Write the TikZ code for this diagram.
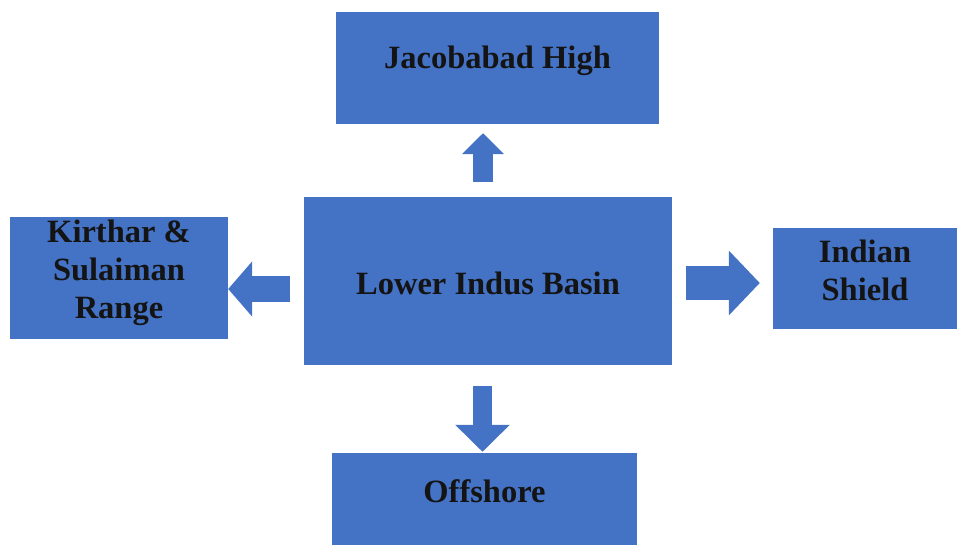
\documentclass[tikz,border=0pt]{standalone}
\usepackage{fontspec}
\setmainfont{Liberation Serif}
\usetikzlibrary{arrows.meta}
\definecolor{boxblue}{HTML}{4472C4}
\begin{document}
\begin{tikzpicture}[x=1pt,y=-1pt,
  box/.style={fill=boxblue, draw=none, inner sep=0pt},
  lbl/.style={font=\fontsize{32.5}{38}\selectfont\bfseries, text=black!92, align=center, inner sep=0pt},
  flow/.style={draw=boxblue, line cap=butt}]
\useasboundingbox (0,0) rectangle (957,545);

% blocks
\node[box, minimum width=323pt, minimum height=112pt] (jac) at (497.5,68) {};
\node[box, minimum width=368pt, minimum height=168pt] (lib) at (488,281) {};
\node[box, minimum width=218pt, minimum height=122pt] (ksr) at (119,278) {};
\node[box, minimum width=184pt, minimum height=101pt] (ind) at (865,278.5) {};
\node[box, minimum width=305pt, minimum height=92pt] (off) at (484.5,499) {};

% block texts
\node[lbl] (jact) at ([yshift=7pt]jac.center) {Jacobabad High};
\node[lbl] (libt) at ([yshift=-2pt]lib.center) {Lower Indus Basin};
\node[lbl] (ksrt) at ([yshift=5pt]ksr.center) {Kirthar \&\\Sulaiman\\Range};
\node[lbl] (indt) at ([yshift=8pt]ind.center) {Indian\\Shield};
\node[lbl] (offt) at ([yshift=8pt]off.center) {Offshore};

% block arrows
\draw[flow, line width=20pt, -{Triangle[width=41pt,length=21pt]}, shorten <=15pt, shorten >=9pt]
  ([xshift=-5pt]lib.north) -- ([xshift=-14.5pt]jac.south);
\draw[flow, line width=26pt, -{Triangle[width=54pt,length=24pt]}, shorten <=14pt]
  ([yshift=-8pt]lib.west) -- ([yshift=-11pt]ksr.east);
\draw[flow, line width=34pt, -{Triangle[width=63pt,length=31pt]}, shorten <=14pt, shorten >=13pt]
  ([yshift=-2pt]lib.east) -- ([yshift=-4.5pt]ind.west);
\draw[flow, line width=19pt, -{Triangle[width=53pt,length=27pt]}, shorten <=21pt, shorten >=1pt]
  ([xshift=-5.5pt]lib.south) -- ([xshift=-2pt]off.north);
\end{tikzpicture}
\end{document}
